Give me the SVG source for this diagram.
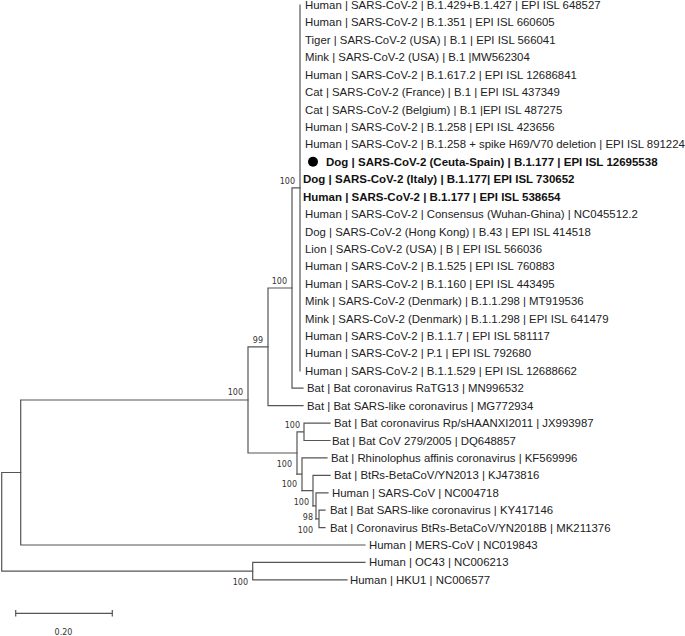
<svg xmlns="http://www.w3.org/2000/svg" width="685" height="636" viewBox="0 0 685 636">
<style>
.br{fill:none;stroke:#555;stroke-width:1.2;stroke-linecap:square}
.lf{font-family:"Liberation Sans",Arial,sans-serif;font-size:11.4px;fill:#222}
.bd{font-weight:bold;font-size:11.5px;fill:#111}
.bs{font-family:"DejaVu Sans",Verdana,sans-serif;font-size:8px;fill:#333;text-anchor:end}
</style>
<rect width="685" height="636" fill="#fff"/>
<g id="connectors" class="br">
<path d="M300,5V370.8"/>
<path d="M292,187.9H300M292,187.9V388.2M292,388.2H303"/>
<path d="M268,288H292M268,288V405.7M268,405.7H303"/>
<path d="M248,346.9H268M248,346.9V453M248,453H297"/>
<path d="M20.7,400H248M20.7,400V545M20.7,545H365"/>
<path d="M297,431.8V474.2M297,431.8H304M304,423.1V440.5M304,423.1H330M304,440.5H330"/>
<path d="M297,474.2H302M302,457.9V490.6M302,457.9H327"/>
<path d="M302,490.6H313M313,475.3V505.8M313,475.3H330"/>
<path d="M313,505.8H316M316,492.8V518.9M316,492.8H328"/>
<path d="M316,518.9H319M319,510.2V527.6M319,510.2H325M319,527.6H325"/>
<path d="M1.7,472.5H20.7M1.7,472.5V571.1M1.7,571.1H252.7"/>
<path d="M252.7,562.4V579.9M252.7,562.4H365M252.7,579.9H347"/>
<path d="M15.7,613.3H112.3M15.7,610.6V616M112.3,610.6V616"/>
</g>
<g id="leaves" class="lf">
<g id="n1"><text x="305" y="9">Human | SARS-CoV-2 | B.1.429+B.1.427 | EPI ISL 648527</text></g>
<g id="n2"><text x="305" y="26.4">Human | SARS-CoV-2 | B.1.351 | EPI ISL 660605</text></g>
<g id="n3"><text x="305" y="43.8">Tiger | SARS-CoV-2 (USA) | B.1 | EPI ISL 566041</text></g>
<g id="n4"><text x="305" y="61.3">Mink | SARS-CoV-2 (USA) | B.1 |MW562304</text></g>
<g id="n5"><text x="305" y="78.7">Human | SARS-CoV-2 | B.1.617.2 | EPI ISL 12686841</text></g>
<g id="n6"><text x="305" y="96.1">Cat | SARS-CoV-2 (France) | B.1 | EPI ISL 437349</text></g>
<g id="n7"><text x="305" y="113.5">Cat | SARS-CoV-2 (Belgium) | B.1 |EPI ISL 487275</text></g>
<g id="n8"><text x="305" y="130.9">Human | SARS-CoV-2 | B.1.258 | EPI ISL 423656</text></g>
<g id="n9"><text x="305" y="148.4">Human | SARS-CoV-2 | B.1.258 + spike H69/V70 deletion | EPI ISL 891224</text></g>
<g id="n10"><circle cx="313" cy="161.8" r="5" fill="#000"/><text class="bd" x="326" y="165.8">Dog | SARS-CoV-2 (Ceuta-Spain) | B.1.177 | EPI ISL 12695538</text></g>
<g id="n11"><text class="bd" x="303" y="183.2">Dog | SARS-CoV-2 (Italy) | B.1.177| EPI ISL 730652</text></g>
<g id="n12"><text class="bd" x="303" y="200.6">Human | SARS-CoV-2 | B.1.177 | EPI ISL 538654</text></g>
<g id="n13"><text x="305" y="218">Human | SARS-CoV-2 | Consensus (Wuhan-Ghina) | NC045512.2</text></g>
<g id="n14"><text x="305" y="235.5">Dog | SARS-CoV-2 (Hong Kong) | B.43 | EPI ISL 414518</text></g>
<g id="n15"><text x="305" y="252.9">Lion | SARS-CoV-2 (USA) | B | EPI ISL 566036</text></g>
<g id="n16"><text x="305" y="270.3">Human | SARS-CoV-2 | B.1.525 | EPI ISL 760883</text></g>
<g id="n17"><text x="305" y="287.7">Human | SARS-CoV-2 | B.1.160 | EPI ISL 443495</text></g>
<g id="n18"><text x="305" y="305.1">Mink | SARS-CoV-2 (Denmark) | B.1.1.298 | MT919536</text></g>
<g id="n19"><text x="305" y="322.6">Mink | SARS-CoV-2 (Denmark) | B.1.1.298 | EPI ISL 641479</text></g>
<g id="n20"><text x="305" y="340">Human | SARS-CoV-2 | B.1.1.7 | EPI ISL 581117</text></g>
<g id="n21"><text x="305" y="357.4">Human | SARS-CoV-2 | P.1 | EPI ISL 792680</text></g>
<g id="n22"><text x="305" y="374.8">Human | SARS-CoV-2 | B.1.1.529 | EPI ISL 12688662</text></g>
<g id="n23"><text x="307" y="392.2">Bat | Bat coronavirus RaTG13 | MN996532</text></g>
<g id="n24"><text x="307" y="409.7">Bat | Bat SARS-like coronavirus | MG772934</text></g>
<g id="n25"><text x="334" y="427.1">Bat | Bat coronavirus Rp/sHAANXI2011 | JX993987</text></g>
<g id="n26"><text x="332" y="444.5">Bat | Bat CoV 279/2005 | DQ648857</text></g>
<g id="n27"><text x="331" y="461.9">Bat | Rhinolophus affinis coronavirus | KF569996</text></g>
<g id="n28"><text x="334" y="479.3">Bat | BtRs-BetaCoV/YN2013 | KJ473816</text></g>
<g id="n29"><text x="332" y="496.8">Human | SARS-CoV | NC004718</text></g>
<g id="n30"><text x="330" y="514.2">Bat | Bat SARS-like coronavirus | KY417146</text></g>
<g id="n31"><text x="330" y="531.6">Bat | Coronavirus BtRs-BetaCoV/YN2018B | MK211376</text></g>
<g id="n32"><text x="369" y="549">Human | MERS-CoV | NC019843</text></g>
<g id="n33"><text x="369" y="566.4">Human | OC43 | NC006213</text></g>
<g id="n34"><text x="350" y="583.9">Human | HKU1 | NC006577</text></g>
</g>
<g id="internal" class="bs">
<g id="i-sars2"><text x="295" y="184">100</text></g>
<g id="i-a"><text x="287" y="284">100</text></g>
<g id="i-b"><text x="263" y="343">99</text></g>
<g id="i-d"><text x="243" y="395">100</text></g>
<g id="i-e"><text x="300" y="428">100</text></g>
<g id="i-g"><text x="292" y="467">100</text></g>
<g id="i-h"><text x="297" y="487">100</text></g>
<g id="i-i"><text x="309" y="505">100</text></g>
<g id="i-k"><text x="313" y="520">98</text></g>
<g id="i-k2"><text x="313" y="533">100</text></g>
<g id="i-y"><text x="248" y="585">100</text></g>
</g>
<g id="scale"><text class="bs" x="63.5" y="635" style="text-anchor:middle">0.20</text></g>
</svg>
